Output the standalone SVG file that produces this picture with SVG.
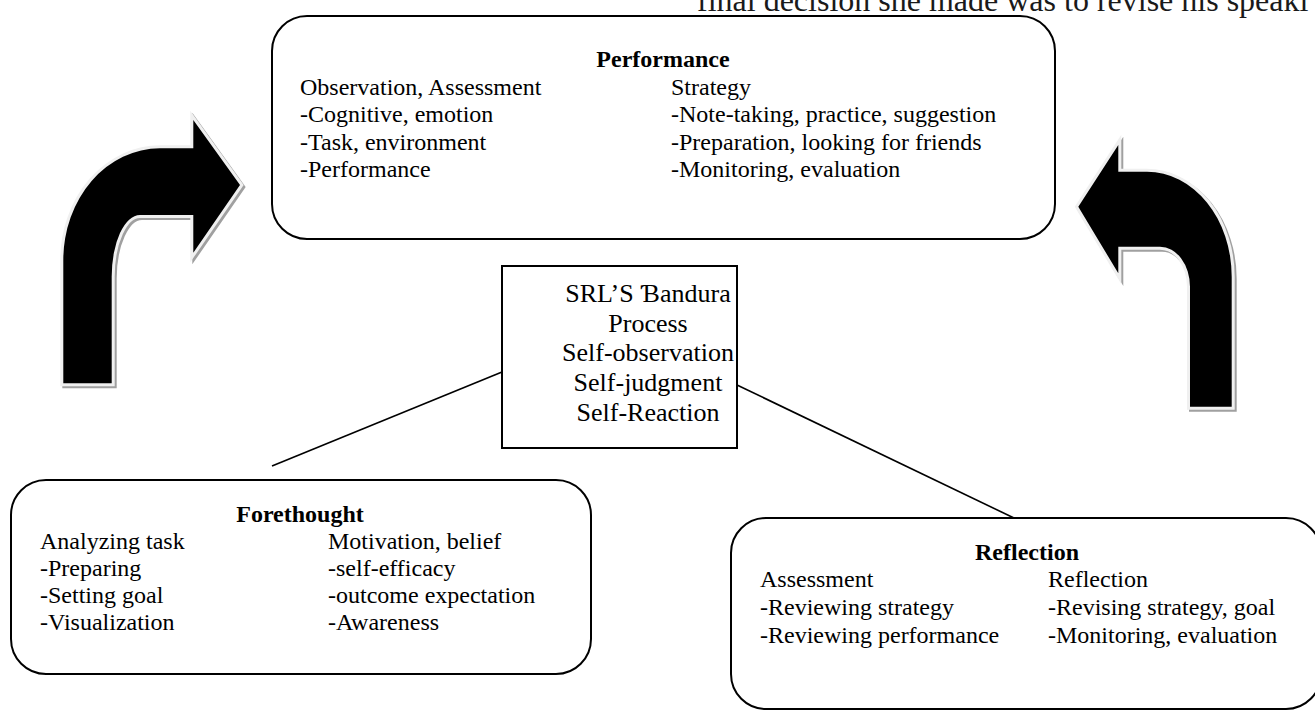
<svg xmlns="http://www.w3.org/2000/svg" width="1315" height="711" viewBox="0 0 1315 711">
<style>
  .box { fill: #ffffff; stroke: #000000; stroke-width: 2; }
  .t { font-family: "Liberation Serif", "Times New Roman", serif; font-size: 24px; fill: #000000; }
  .tb { font-family: "Liberation Serif", "Times New Roman", serif; font-size: 24px; font-weight: bold; fill: #000000; text-anchor: middle; }
  .tc { font-family: "Liberation Serif", "Times New Roman", serif; font-size: 26px; fill: #000000; text-anchor: middle; }
  .arrow { fill: #000000; stroke: #f0f0f0; stroke-width: 6; stroke-linejoin: miter; paint-order: stroke; }
  .shadow { fill: #a0a0a0; stroke: #a0a0a0; stroke-width: 6; stroke-linejoin: miter; }
  .conn { stroke: #000000; stroke-width: 1.6; fill: none; }
</style>
<rect width="1315" height="711" fill="#ffffff"/>

<text x="697" y="11" style="font-family: 'Liberation Serif', 'Times New Roman', serif; font-size: 32px; fill: #1a1a1a;">final decision she made was to revise his speaki</text>

<g id="arrow-left">
  <path class="shadow" transform="translate(2,2)" d="M63.3 383.3 L63.3 260 A96.7 111.7 0 0 1 160 148.3 L193.3 148.3 L193.3 120 L240 185 L193.3 252.7 L193.3 215 L140 215 A28.3 61.7 0 0 0 111.7 276.7 L111.7 383.3 Z"/>
  <path class="arrow" d="M63.3 383.3 L63.3 260 A96.7 111.7 0 0 1 160 148.3 L193.3 148.3 L193.3 120 L240 185 L193.3 252.7 L193.3 215 L140 215 A28.3 61.7 0 0 0 111.7 276.7 L111.7 383.3 Z"/>
</g>

<g id="arrow-right">
  <path class="shadow" transform="translate(2,2)" d="M1231.7 406.7 L1231.7 276.7 A84.7 105 0 0 0 1147 171.7 L1118.3 171.7 L1118.3 145 L1078.3 206.7 L1118.3 273.3 L1118.3 246.7 L1160 246.7 A30 40 0 0 1 1190 286.7 L1190 406.7 Z"/>
  <path class="arrow" d="M1231.7 406.7 L1231.7 276.7 A84.7 105 0 0 0 1147 171.7 L1118.3 171.7 L1118.3 145 L1078.3 206.7 L1118.3 273.3 L1118.3 246.7 L1160 246.7 A30 40 0 0 1 1190 286.7 L1190 406.7 Z"/>
</g>

<g id="connectors">
  <line class="conn" x1="272" y1="466" x2="502" y2="372"/>
  <line class="conn" x1="737" y1="385" x2="1014" y2="518"/>
</g>

<g id="performance">
  <rect class="box" x="272" y="16" width="783" height="223" rx="35" ry="35"/>
  <text class="tb" x="663" y="67">Performance</text>
  <text class="t" x="300" y="94.5">Observation, Assessment</text>
  <text class="t" x="300" y="122">-Cognitive, emotion</text>
  <text class="t" x="300" y="149.5">-Task, environment</text>
  <text class="t" x="300" y="177">-Performance</text>
  <text class="t" x="671" y="94.5">Strategy</text>
  <text class="t" x="671" y="122">-Note-taking, practice, suggestion</text>
  <text class="t" x="671" y="149.5">-Preparation, looking for friends</text>
  <text class="t" x="671" y="177">-Monitoring, evaluation</text>
</g>

<g id="center">
  <rect class="box" x="502" y="266" width="235" height="182"/>
  <text class="tc" x="648" y="302">SRL’S Ɓandura</text>
  <text class="tc" x="648" y="332">Process</text>
  <text class="tc" x="648" y="361">Self-observation</text>
  <text class="tc" x="648" y="391">Self-judgment</text>
  <text class="tc" x="648" y="421">Self-Reaction</text>
</g>

<g id="forethought">
  <rect class="box" x="11" y="480" width="580" height="194" rx="35" ry="35"/>
  <text class="tb" x="300" y="522">Forethought</text>
  <text class="t" x="40" y="549">Analyzing task</text>
  <text class="t" x="40" y="576">-Preparing</text>
  <text class="t" x="40" y="603">-Setting goal</text>
  <text class="t" x="40" y="630">-Visualization</text>
  <text class="t" x="328" y="549">Motivation, belief</text>
  <text class="t" x="328" y="576">-self-efficacy</text>
  <text class="t" x="328" y="603">-outcome expectation</text>
  <text class="t" x="328" y="630">-Awareness</text>
</g>

<g id="reflection">
  <rect class="box" x="731" y="518" width="590" height="191" rx="35" ry="35"/>
  <text class="tb" x="1027" y="560">Reflection</text>
  <text class="t" x="760" y="587">Assessment</text>
  <text class="t" x="760" y="615">-Reviewing strategy</text>
  <text class="t" x="760" y="643">-Reviewing performance</text>
  <text class="t" x="1048" y="587">Reflection</text>
  <text class="t" x="1048" y="615">-Revising strategy, goal</text>
  <text class="t" x="1048" y="643">-Monitoring, evaluation</text>
</g>
</svg>
